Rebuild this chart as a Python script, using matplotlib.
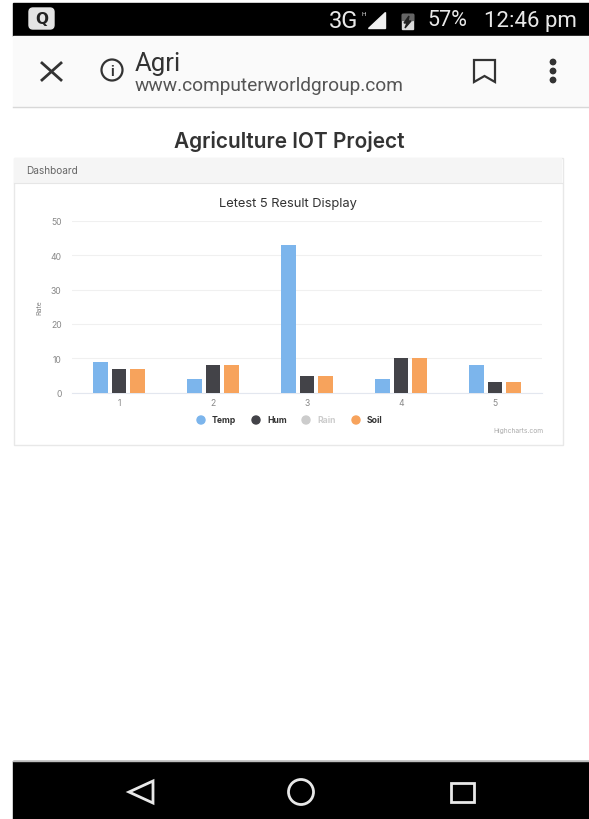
import matplotlib
matplotlib.use('Agg')
import matplotlib.pyplot as plt
from matplotlib.patches import Rectangle, Circle, Polygon, FancyBboxPatch

# values
categories = ['1', '2', '3', '4', '5']
temp = [9, 4, 43, 4, 8]
hum = [7, 8, 5, 10, 3]
soil = [7, 8, 5, 10, 3]
y_ticks = [0, 10, 20, 30, 40, 50]
legend_names = ['Temp', 'Hum', 'Rain', 'Soil']
legend_colors = ['#7cb5ec', '#434348', '#cccccc', '#f7a35c']
legend_text_colors = ['#333333', '#333333', '#cccccc', '#333333']
legend_x = [201, 256, 306, 356]

W, H = 589, 820
fig = plt.figure(figsize=(W / 100, H / 100), dpi=100, facecolor='white')

# page axes in screen pixels, for the phone chrome and the card
page = fig.add_axes([0, 0, 1, 1])
page.set_xlim(0, W)
page.set_ylim(H, 0)
page.axis('off')

# status bar
page.add_patch(Rectangle((13, 4), W - 13, 33, color='black'))
page.add_patch(FancyBboxPatch((29, 9), 25, 21, boxstyle='round,pad=0,rounding_size=4', color='#e4e4e4'))
page.text(41.5, 19.5, 'Q', color='#222222', fontsize=11, fontweight='bold', ha='center', va='center', family='DejaVu Sans')
page.text(329, 21, '3G', color='#e8e8e8', fontsize=17, ha='left', va='center', family='Roboto')
page.text(361, 14, 'H', color='#e8e8e8', fontsize=4.5, ha='left', va='center', family='Roboto')
page.add_patch(Polygon([(368, 29), (385, 29), (385, 13)], color='#f0f0f0'))
page.add_patch(Rectangle((402, 15), 11, 15, color='#dddddd'))
page.add_patch(Rectangle((402, 15), 11, 6, color='#666666'))
page.add_patch(Polygon([(409, 17), (404, 24), (407, 24), (405, 29), (411, 22), (408, 22)], color='#222222'))
page.text(427, 21, '57%', color='#e8e8e8', fontsize=15.5, ha='left', va='center', family='Roboto')
page.text(577, 21, '12:46 pm', color='#e8e8e8', fontsize=16, ha='right', va='center', family='Roboto')

# browser toolbar
page.add_patch(Rectangle((13, 37), W - 13, 71, color='#fafafa'))
page.plot([13, W], [108, 108], color='#d8d8d8', lw=1)
page.plot([42, 61], [64, 81], color='#333333', lw=2)
page.plot([42, 61], [81, 64], color='#333333', lw=2)
page.add_patch(Circle((112, 71), 10.5, fill=False, ec='#333333', lw=1.6))
page.text(112, 71.5, 'i', color='#333333', fontsize=10, fontweight='bold', ha='center', va='center', family='Roboto')
page.text(135, 64, 'Agri', color='#333333', fontsize=18.5, ha='left', va='center', family='Roboto')
page.text(135, 86, 'www.computerworldgroup.com', color='#555555', fontsize=13.8, ha='left', va='center', family='Roboto')
page.add_patch(Polygon([(474, 61), (495, 61), (495, 83), (484.5, 77), (474, 83)], fill=False, ec='#333333', lw=1.6))
for dot_y in [63, 72, 81]:
    page.add_patch(Circle((553, dot_y), 2.7, color='#333333'))

# page heading and card
page.text(289, 142, 'Agriculture IOT Project', color='#333333', fontsize=15, fontweight='semibold', ha='center', va='center', family='Inter')
page.add_patch(Rectangle((13.5, 158.5), 549, 287, fc='white', ec='#e8e8e8', lw=1))
page.add_patch(Rectangle((14, 159), 548, 25, fc='#f5f5f5', ec='none'))
page.plot([14, 562], [184, 184], color='#e6e6e6', lw=0.8)
page.text(26, 171, 'Dashboard', color='#666666', fontsize=7.2, ha='left', va='center', family='Inter')

# bottom nav bar
page.add_patch(Rectangle((13, 762), W - 13, 58, color='black'))
page.plot([13, W], [761.5, 761.5], color='#bbbbbb', lw=1)
page.add_patch(Polygon([(129, 793), (153, 782), (153, 804)], fill=False, ec='#e8e8e8', lw=2))
page.add_patch(Circle((301, 793), 12.5, fill=False, ec='#e8e8e8', lw=2))
page.add_patch(Rectangle((451, 784), 23, 19, fill=False, ec='#e8e8e8', lw=2))

# chart axes
left, right, top, bottom = 72, 542, 221.7, 393.7
ax = fig.add_axes([left / W, 1 - bottom / H, (right - left) / W, (bottom - top) / H])
ax.patch.set_alpha(0)
x = list(range(1, len(categories) + 1))
bar_w = 0.157
ax.bar([i - 0.2 for i in x], temp, bar_w, color=legend_colors[0], zorder=3)
ax.bar(x, hum, bar_w, color=legend_colors[1], zorder=3)
ax.bar([i + 0.2 for i in x], soil, bar_w, color=legend_colors[3], zorder=3)

ax.set_xlim(0.5, 5.5)
ax.set_ylim(0, 50)
ax.set_xticks(x)
ax.set_xticklabels(categories)
ax.set_yticks(y_ticks)
ax.grid(axis='y', color='#f0f0f0', lw=0.8, zorder=0)
ax.tick_params(axis='both', length=0, labelsize=6.2, labelcolor='#888888', pad=0)
ax.tick_params(axis='x', pad=4)
ax.tick_params(axis='y', pad=7.5)
for label in ax.get_xticklabels() + ax.get_yticklabels():
    label.set_family('Inter')
for side in ['top', 'left', 'right']:
    ax.spines[side].set_visible(False)
ax.spines['bottom'].set_color('#e3e7ef')
ax.spines['bottom'].set_linewidth(0.8)
ax.set_ylabel('Rate', fontsize=5.2, color='#888888', labelpad=0, family='Roboto')
ax.yaxis.set_label_coords((43 - left) / (right - left), 0.5)

# chart title, legend, credit
page.text(288, 203.5, 'Letest 5 Result Display', color='#333333', fontsize=9.3, ha='center', va='center', family='Inter')
for name, color, text_color, lx in zip(legend_names, legend_colors, legend_text_colors, legend_x):
    page.add_patch(Circle((lx, 421), 4, color=color))
    page.text(lx + 11, 421, name, color=text_color, fontsize=6.2, fontweight='bold', ha='left', va='center', family='Inter')
page.text(543, 431.5, 'Highcharts.com', color='#aaaaaa', fontsize=4.8, ha='right', va='center', family='Inter')

fig.savefig('out.png', dpi=100)
